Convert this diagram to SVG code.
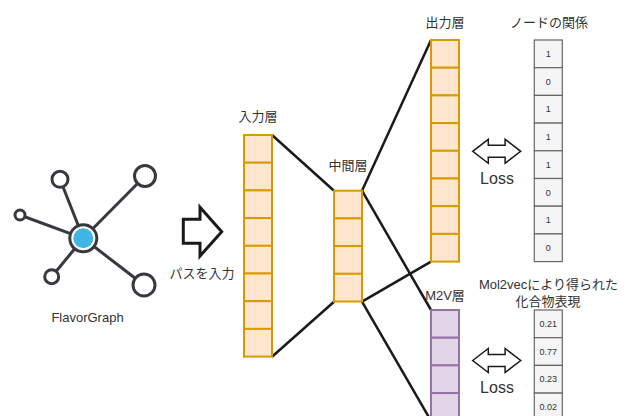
<svg xmlns="http://www.w3.org/2000/svg" width="627" height="416" viewBox="0 0 627 416">
<style>
text{font-family:"Liberation Sans","Noto Sans CJK JP",sans-serif;fill:#333;}
.lbl{font-size:13px;text-anchor:middle;}
.val{font-size:9px;text-anchor:middle;}
.loss{font-size:16px;text-anchor:middle;}
.cell{fill:#ffe6cc;stroke:#d79b00;stroke-width:2;}
.pcell{fill:#e1d5e7;stroke:#9673a6;stroke-width:2;}
.gcell{fill:#f5f5f5;stroke:#666;stroke-width:1.2;}
.conn{stroke:#1a1a1a;stroke-width:2.5;fill:none;}
.gedge{stroke:#36393d;stroke-width:3;}
.gnode{fill:#fff;stroke:#36393d;stroke-width:3;}
.darr{fill:#fff;stroke:#1a1a1a;stroke-width:1.5;}
</style>
<defs>
<g id="col8">
<rect class="cell" x="0" y="0" width="28" height="27.7"/>
<rect class="cell" x="0" y="27.7" width="28" height="27.7"/>
<rect class="cell" x="0" y="55.4" width="28" height="27.7"/>
<rect class="cell" x="0" y="83.1" width="28" height="27.7"/>
<rect class="cell" x="0" y="110.8" width="28" height="27.7"/>
<rect class="cell" x="0" y="138.5" width="28" height="27.7"/>
<rect class="cell" x="0" y="166.2" width="28" height="27.7"/>
<rect class="cell" x="0" y="193.9" width="28" height="27.7"/>
</g>
<path id="dbl" d="M0,12 L15.6,0 L15.6,6 L32.4,6 L32.4,0 L48,12 L32.4,24 L32.4,18 L15.6,18 L15.6,24 Z"/>
</defs>

<g id="connectors">
<line class="conn" x1="272" y1="135" x2="334" y2="190.7"/>
<line class="conn" x1="272" y1="356.7" x2="334" y2="301.7"/>
<line class="conn" x1="362" y1="190.7" x2="431" y2="40"/>
<line class="conn" x1="362" y1="301.7" x2="431" y2="261.7"/>
<line class="conn" x1="362" y1="190.7" x2="431" y2="310"/>
<line class="conn" x1="362" y1="301.7" x2="431" y2="420.8"/>
</g>

<g id="flavorgraph">
<line class="gedge" x1="83.3" y1="238.3" x2="60" y2="179.3"/>
<line class="gedge" x1="83.3" y1="238.3" x2="145" y2="176"/>
<line class="gedge" x1="83.3" y1="238.3" x2="20" y2="215"/>
<line class="gedge" x1="83.3" y1="238.3" x2="51.7" y2="276.7"/>
<line class="gedge" x1="83.3" y1="238.3" x2="144" y2="285"/>
<circle class="gnode" cx="60" cy="179.3" r="8"/>
<circle class="gnode" cx="145" cy="176" r="10.5"/>
<circle class="gnode" cx="20" cy="215" r="5"/>
<circle class="gnode" cx="51.7" cy="276.7" r="7"/>
<circle class="gnode" cx="144" cy="285" r="11"/>
<circle class="gnode" cx="83.3" cy="238.3" r="13.5"/>
<circle cx="83.3" cy="238.3" r="10" fill="#41b6e6"/>
<text class="lbl" x="87.5" y="322">FlavorGraph</text>
</g>

<g id="input-arrow">
<path d="M183.3,219.3 L200,219.3 L200,207.3 L221.7,231.7 L200,256 L200,243.3 L183.3,243.3 Z" fill="#fff" stroke="#1a1a1a" stroke-width="3" stroke-linejoin="miter"/>
<text class="lbl" x="202" y="277.5">パスを入力</text>
</g>

<g id="input-layer">
<use href="#col8" x="244" y="135"/>
<text class="lbl" x="258" y="121">入力層</text>
</g>

<g id="middle-layer">
<rect class="cell" x="334" y="190.7" width="28" height="27.7"/>
<rect class="cell" x="334" y="218.4" width="28" height="27.7"/>
<rect class="cell" x="334" y="246.1" width="28" height="27.7"/>
<rect class="cell" x="334" y="273.8" width="28" height="27.7"/>
<text class="lbl" x="348" y="169.5">中間層</text>
</g>

<g id="output-layer">
<use href="#col8" x="431" y="40"/>
<text class="lbl" x="445" y="27">出力層</text>
</g>

<g id="m2v-layer">
<rect class="pcell" x="431" y="310" width="28" height="27.7"/>
<rect class="pcell" x="431" y="337.7" width="28" height="27.7"/>
<rect class="pcell" x="431" y="365.4" width="28" height="27.7"/>
<rect class="pcell" x="431" y="393.1" width="28" height="27.7"/>
<text class="lbl" x="445" y="299.5">M2V層</text>
</g>

<g id="node-relation">
<rect class="gcell" x="534.3" y="40" width="28" height="27.7"/>
<rect class="gcell" x="534.3" y="67.7" width="28" height="27.7"/>
<rect class="gcell" x="534.3" y="95.4" width="28" height="27.7"/>
<rect class="gcell" x="534.3" y="123.1" width="28" height="27.7"/>
<rect class="gcell" x="534.3" y="150.8" width="28" height="27.7"/>
<rect class="gcell" x="534.3" y="178.5" width="28" height="27.7"/>
<rect class="gcell" x="534.3" y="206.2" width="28" height="27.7"/>
<rect class="gcell" x="534.3" y="233.9" width="28" height="27.7"/>
<text class="val" x="548.3" y="57">1</text>
<text class="val" x="548.3" y="84.7">0</text>
<text class="val" x="548.3" y="112.4">1</text>
<text class="val" x="548.3" y="140.1">1</text>
<text class="val" x="548.3" y="167.8">1</text>
<text class="val" x="548.3" y="195.5">0</text>
<text class="val" x="548.3" y="223.2">1</text>
<text class="val" x="548.3" y="250.9">0</text>
<text class="lbl" x="549" y="27">ノードの関係</text>
</g>

<g id="mol2vec">
<rect class="gcell" x="534.3" y="310" width="28" height="27.7"/>
<rect class="gcell" x="534.3" y="337.7" width="28" height="27.7"/>
<rect class="gcell" x="534.3" y="365.4" width="28" height="27.7"/>
<rect class="gcell" x="534.3" y="393.1" width="28" height="27.7"/>
<text class="val" x="548.3" y="327">0.21</text>
<text class="val" x="548.3" y="354.7">0.77</text>
<text class="val" x="548.3" y="382.4">0.23</text>
<text class="val" x="548.3" y="410.1">0.02</text>
<text class="lbl" x="548.5" y="288.5">Mol2vecにより得られた</text>
<text class="lbl" x="548" y="305.5">化合物表現</text>
</g>

<g id="loss-upper">
<use href="#dbl" class="darr" x="472.7" y="139.3"/>
<text class="loss" x="497" y="184">Loss</text>
</g>

<g id="loss-lower">
<use href="#dbl" class="darr" x="472.7" y="348.5"/>
<text class="loss" x="497" y="392.7">Loss</text>
</g>
</svg>
